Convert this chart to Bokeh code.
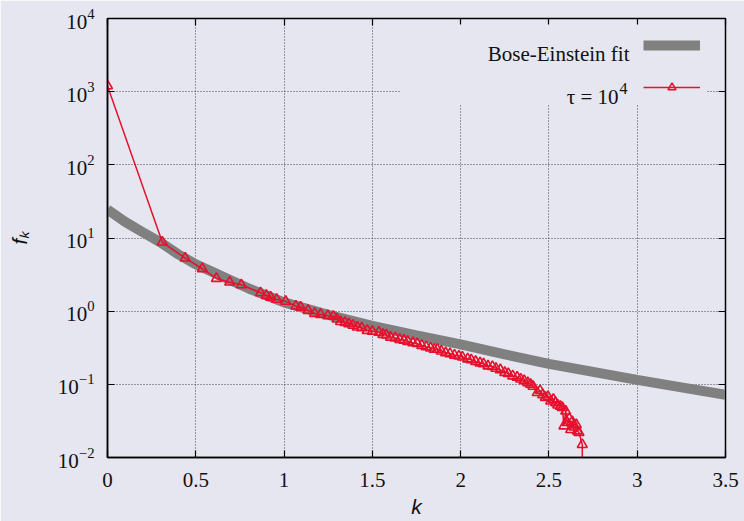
from bokeh.plotting import figure
from bokeh.models import (Range1d, FixedTicker, LinearAxis, LogAxis, Label, Legend,
                          LegendItem, BoxAnnotation, NumeralTickFormatter)
from bokeh.core.properties import value
from bokeh.embed import file_html
from bokeh.resources import INLINE

# ---------------- data ----------------
k_fit = [0.0, 0.1, 0.2, 0.3, 0.4, 0.5, 0.6, 0.8, 1.0, 1.25, 1.5, 1.75, 2.0,
         2.25, 2.5, 2.75, 3.0, 3.25, 3.5]
f_fit = [24.5, 16.6, 12.0, 8.7, 6.0, 4.37, 3.39, 2.04, 1.32, 0.89, 0.63, 0.468,
         0.351, 0.257, 0.19, 0.148, 0.115, 0.091, 0.072]

k_data = [0.0, 0.31, 0.44, 0.537, 0.617, 0.692, 0.758, 0.867, 0.90, 0.924, 0.958,
          1.009, 1.067, 1.094, 1.136, 1.173, 1.207, 1.248, 1.279, 1.30, 1.32,
          1.345, 1.367, 1.39, 1.415, 1.44, 1.471, 1.50, 1.537, 1.56, 1.58, 1.603,
          1.63, 1.655, 1.679, 1.70, 1.73, 1.754, 1.78, 1.805, 1.83, 1.85, 1.868,
          1.89, 1.915, 1.94, 1.965, 1.99, 2.01, 2.04, 2.06, 2.085, 2.11, 2.13,
          2.155, 2.18, 2.20, 2.225, 2.25, 2.27, 2.295, 2.32, 2.34, 2.36, 2.38,
          2.396, 2.41, 2.434, 2.45, 2.465, 2.48, 2.495, 2.51, 2.525, 2.538, 2.55,
          2.565, 2.576, 2.585, 2.595, 2.604, 2.615, 2.623, 2.632, 2.642, 2.655,
          2.661, 2.67, 2.689, 2.69]
f_data = [1200, 8.8, 5.3, 3.8, 2.8, 2.49, 2.29, 1.78, 1.64, 1.55, 1.45,
          1.36, 1.17, 1.13, 1.02, 0.93, 0.90, 0.865, 0.85, 0.78, 0.72,
          0.70, 0.67, 0.64, 0.605, 0.59, 0.545, 0.53, 0.516, 0.48, 0.47, 0.44,
          0.43, 0.41, 0.40, 0.385, 0.37, 0.36, 0.34, 0.325, 0.313, 0.30, 0.30,
          0.285, 0.27, 0.262, 0.25, 0.243, 0.236, 0.222, 0.216, 0.205, 0.196, 0.19,
          0.178, 0.175, 0.165, 0.158, 0.145, 0.14, 0.13, 0.125, 0.118, 0.112, 0.105,
          0.10, 0.094, 0.077, 0.082, 0.072, 0.066, 0.068, 0.059, 0.062, 0.056, 0.052,
          0.050, 0.048, 0.027, 0.043, 0.030, 0.034, 0.024, 0.031, 0.026, 0.028,
          0.023, 0.022, 0.015, 0.001]

x_ticks = [0, 0.5, 1, 1.5, 2, 2.5, 3, 3.5]
y_ticks = [1e-2, 1e-1, 1e0, 1e1, 1e2, 1e3, 1e4]

fit_label = "Bose-Einstein fit"
data_label = "\u03c4 = 10"
data_label_exp = "4"
x_title = "k"
y_title = "f\u2096"

# ---------------- styling ----------------
BG = "#E6E6F0"
RED = "#E5102B"
GRAY = "#808080"
SERIF = "Liberation Serif"
SANS = "Liberation Sans"

p = figure(width=744, height=521, x_range=Range1d(0, 3.5), y_range=Range1d(0.01, 1e4),
           y_axis_type="log", output_backend="svg", toolbar_location=None,
           min_border_left=107, min_border_right=19, min_border_top=18,
           min_border_bottom=64)
p.background_fill_color = BG
p.border_fill_color = BG
p.outline_line_color = "black"
p.outline_line_width = 1.5

for ax in (p.xaxis[0], p.yaxis[0]):
    ax.major_tick_in = 7
    ax.major_tick_out = 0
    ax.minor_tick_line_color = None
    ax.major_tick_line_color = "black"
    ax.major_tick_line_width = 1.2
    ax.axis_line_color = "black"
    ax.axis_line_width = 1.5
    ax.major_label_text_font = SERIF
    ax.major_label_text_font_size = "21px"
    ax.major_label_text_color = "#111111"
    ax.axis_label_text_font = SANS
    ax.axis_label_text_font_style = "italic"
    ax.axis_label_text_font_size = "21px"
    ax.axis_label_text_color = "#111111"

p.xaxis.ticker = FixedTicker(ticks=x_ticks)
p.xaxis.formatter = NumeralTickFormatter(format="0.[0]")
p.xaxis.major_label_standoff = 15
p.xaxis.axis_label = x_title
p.xaxis.axis_label_standoff = 5
p.yaxis.ticker = FixedTicker(ticks=y_ticks)
p.yaxis.major_label_standoff = 13
p.yaxis.axis_label = y_title
p.yaxis.axis_label_standoff = 24

top_ax = LinearAxis(ticker=FixedTicker(ticks=x_ticks), major_tick_in=7, major_tick_out=0,
                    minor_tick_line_color=None, major_label_text_font_size="1px",
                    major_label_text_color=None,
                    axis_line_color="black", major_tick_line_color="black",
                    major_tick_line_width=1.2, major_label_standoff=0)
p.add_layout(top_ax, "above")
right_ax = LogAxis(ticker=FixedTicker(ticks=y_ticks), major_tick_in=7, major_tick_out=0,
                   minor_tick_line_color=None, major_label_text_font_size="1px",
                   major_label_text_color=None,
                   axis_line_color="black", major_tick_line_color="black",
                   major_tick_line_width=1.2, major_label_standoff=0)
p.add_layout(right_ax, "right")

p.xgrid.ticker = FixedTicker(ticks=x_ticks[1:-1])
p.ygrid.ticker = FixedTicker(ticks=y_ticks[1:-1])
for g in (p.xgrid[0], p.ygrid[0]):
    g.grid_line_color = "#333333"
    g.grid_line_dash = "1 2"
    g.grid_line_width = 1
    g.grid_line_alpha = 0.9

# ---------------- data renderers ----------------
fit_r = p.line(k_fit, f_fit, line_color=GRAY, line_width=10)
data_line = p.line(k_data, f_data, line_color=RED, line_width=1.5)
data_pts = p.scatter(k_data, f_data, marker="triangle", size=10, line_color=RED,
                     fill_color=None, line_width=1.6)

# ---------------- gnuplot-style key ----------------
mask = BoxAnnotation(left=1.66, right=3.39, bottom=10 ** 2.824, top=10 ** 3.917,
                     fill_color=BG, fill_alpha=1.0, line_color=None)
p.add_layout(mask)

legend = Legend(items=[LegendItem(label=value(" "), renderers=[fit_r]),
                       LegendItem(label=value(" "), renderers=[data_line, data_pts])],
                location=(536, 360), glyph_width=57, glyph_height=20, spacing=22,
                padding=0, margin=0, label_width=0, label_standoff=0,
                label_text_font_size="4px", label_text_color=BG,
                background_fill_alpha=0, border_line_color=None)
p.add_layout(legend)

p.add_layout(Label(x=522, y=404, x_units="screen", y_units="screen", text=fit_label,
                   text_align="right", text_baseline="alphabetic",
                   text_font=SERIF, text_font_size="21px", text_color="#111111"))
p.add_layout(Label(x=511, y=361, x_units="screen", y_units="screen", text=data_label,
                   text_align="right", text_baseline="alphabetic",
                   text_font=SERIF, text_font_size="21px", text_color="#111111"))
p.add_layout(Label(x=512, y=369, x_units="screen", y_units="screen", text=data_label_exp,
                   text_align="left", text_baseline="alphabetic",
                   text_font=SERIF, text_font_size="16px", text_color="#111111"))

open("out.html", "w").write(file_html(p, INLINE))
